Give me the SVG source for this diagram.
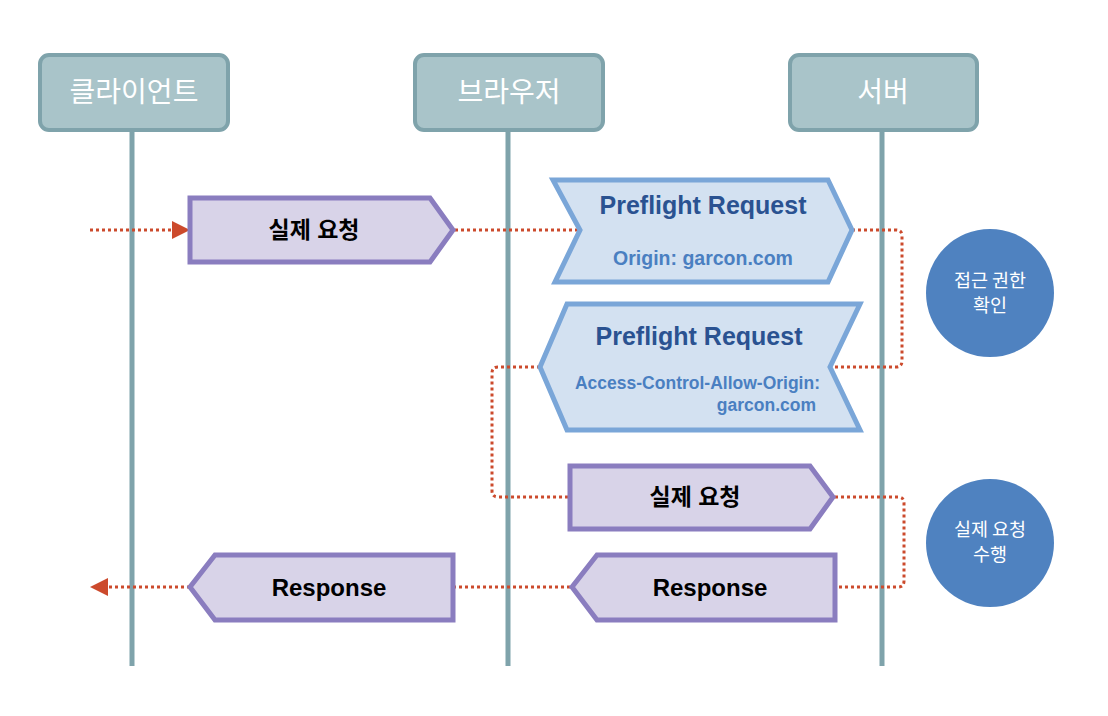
<svg xmlns="http://www.w3.org/2000/svg" width="1108" height="716" viewBox="0 0 1108 716">
<defs>
<style>
.hdr{fill:#a9c4c9;stroke:#7fa3ab;stroke-width:4}
.hdrt{fill:#fff;font-family:"Noto Sans CJK KR","Noto Sans",sans-serif;font-size:28px;text-anchor:middle}
.life{stroke:#7fa3ab;stroke-width:5}
.msg{fill:#d8d3e8;stroke:#8a7dbf;stroke-width:5;stroke-linejoin:miter}
.msgt{fill:#000;font-family:"Liberation Sans","Noto Sans CJK KR",sans-serif;font-weight:bold;font-size:24px;text-anchor:middle}
.msgk{font-size:23px}
.pf{fill:#d3e1f1;stroke:#7aa6d8;stroke-width:5}
.pft{fill:#2a5291;font-family:"Liberation Sans",sans-serif;font-weight:bold;font-size:25px;text-anchor:middle}
.pfs{fill:#4a7fc1;font-family:"Liberation Sans",sans-serif;font-weight:bold;font-size:17.5px}
.dot{fill:none;stroke:#cc4a2c;stroke-width:3;stroke-dasharray:3 3}
.circ{fill:#4f82c0}
.ct{fill:#fff;font-family:"Noto Sans CJK KR",sans-serif;font-size:18.5px;text-anchor:middle}
</style>
</defs>
<g id="client">
<rect class="hdr" x="40" y="55" width="188" height="75" rx="9"/>
<text class="hdrt" x="134" y="102">클라이언트</text>
<line class="life" x1="132" y1="130" x2="132" y2="666"/>
</g>
<g id="browser">
<rect class="hdr" x="415" y="55" width="188" height="75" rx="9"/>
<text class="hdrt" x="509" y="102">브라우저</text>
<line class="life" x1="508" y1="130" x2="508" y2="666"/>
</g>
<g id="server">
<rect class="hdr" x="790" y="55" width="187" height="75" rx="9"/>
<text class="hdrt" x="883" y="102">서버</text>
<line class="life" x1="882" y1="130" x2="882" y2="666"/>
</g>
<g id="connectors">
<path class="dot" d="M90 230 H172"/>
<polygon points="172,221 190,230 172,239" fill="#cc4a2c"/>
<path class="dot" d="M455 230 H580"/>
<path class="dot" d="M852 230 H896 Q902 230 902 236 V361 Q902 367 896 367 H830"/>
<path class="dot" d="M540 367 H498 Q492 367 492 373 V491 Q492 497 498 497 H570"/>
<path class="dot" d="M835 497 H898 Q904 497 904 503 V581 Q904 587 898 587 H835"/>
<path class="dot" d="M570 587 H455"/>
<path class="dot" d="M190 587 H108"/>
<polygon points="108,578 90,587 108,596" fill="#cc4a2c"/>
</g>
<g id="msg-request1">
<polygon class="msg" points="190,198 430,198 453,230 430,262 190,262"/>
<text class="msgt msgk" x="314" y="238">실제 요청</text>
</g>
<g id="preflight-request">
<polygon class="pf" points="553,180 828,180 852,230 828,282 555,282 580,230"/>
<text class="pft" x="703" y="214">Preflight Request</text>
<text class="pfs" x="703" y="265" text-anchor="middle" style="font-size:19.5px">Origin: garcon.com</text>
</g>
<g id="preflight-response">
<polygon class="pf" points="567,304 860,304 830,367 860,430 567,430 540,367"/>
<text class="pft" x="699" y="345">Preflight Request</text>
<text class="pfs" x="820" y="389" text-anchor="end">Access-Control-Allow-Origin:</text>
<text class="pfs" x="816" y="411" text-anchor="end">garcon.com</text>
</g>
<g id="msg-request2">
<polygon class="msg" points="570,466 810,466 833,497 810,529 570,529"/>
<text class="msgt msgk" x="695" y="505">실제 요청</text>
</g>
<g id="msg-response2">
<polygon class="msg" points="597,555 835,555 835,620 597,620 572,587"/>
<text class="msgt" x="710" y="596">Response</text>
</g>
<g id="msg-response1">
<polygon class="msg" points="215,555 453,555 453,620 215,620 190,587"/>
<text class="msgt" x="329" y="596">Response</text>
</g>
<g id="check-access">
<circle class="circ" cx="990" cy="293" r="64"/>
<text class="ct" x="990" y="287">접근 권한</text>
<text class="ct" x="990" y="312">확인</text>
</g>
<g id="perform-request">
<circle class="circ" cx="990" cy="543" r="64"/>
<text class="ct" x="990" y="536">실제 요청</text>
<text class="ct" x="990" y="561">수행</text>
</g>
</svg>
